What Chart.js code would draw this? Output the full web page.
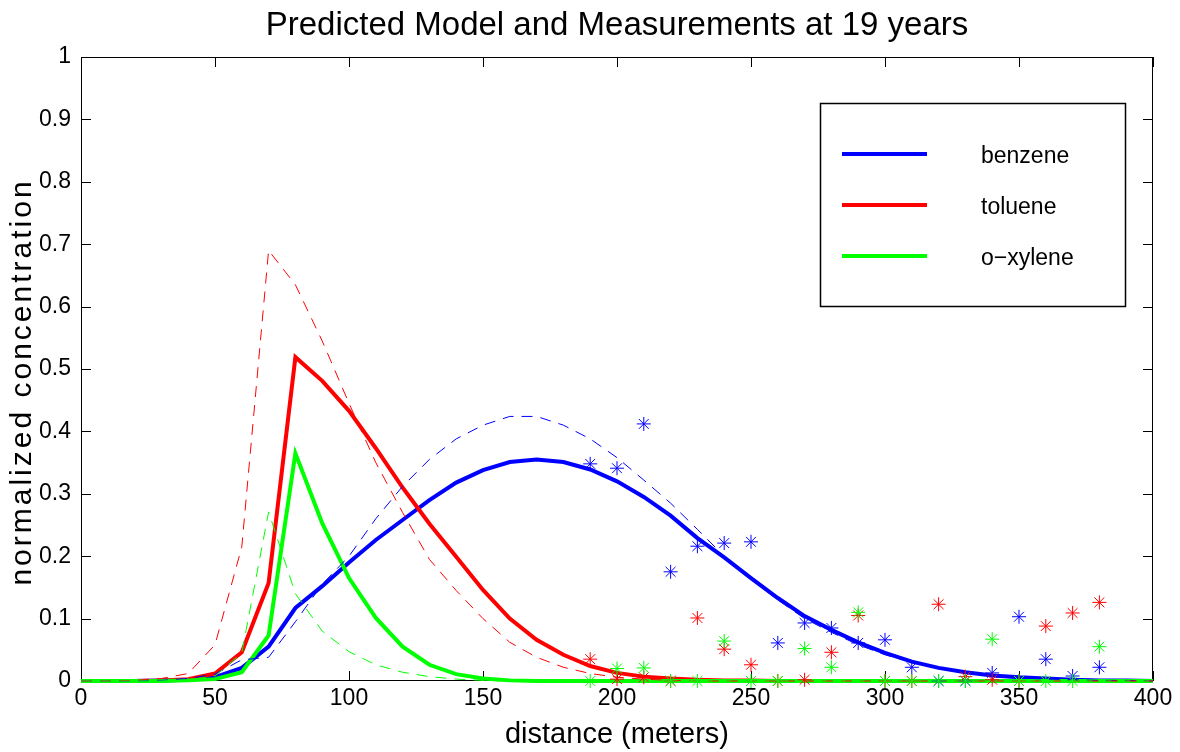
<!DOCTYPE html>
<html>
<head>
<meta charset="utf-8">
<title>Predicted Model and Measurements at 19 years</title>
<script src="https://cdn.jsdelivr.net/npm/chart.js@4.4.1/dist/chart.umd.min.js"></script>
<style>
  html, body { margin: 0; padding: 0; background: #ffffff; }
  #wrap { width: 1180px; height: 752px; }
</style>
</head>
<body>
<div id="wrap"><canvas id="chart" width="1180" height="752"></canvas></div>
<script>
// model grid (meters)
const distance = [0, 10, 20, 30, 40, 50, 60, 70, 80, 90, 100, 110, 120, 130, 140, 150, 160, 170, 180, 190, 200,
  210, 220, 230, 240, 250, 260, 270, 280, 290, 300, 310, 320, 330, 340, 350, 360, 370, 380, 390, 400];

// predicted model (solid lines)
const benzeneModel = [0, 0, 0, 0.001, 0.002, 0.006, 0.021, 0.055, 0.117, 0.152, 0.19, 0.226, 0.258, 0.29, 0.318, 0.338,
  0.351, 0.355, 0.351, 0.339, 0.32, 0.295, 0.265, 0.229, 0.198, 0.165, 0.133, 0.104, 0.082, 0.062, 0.045, 0.031,
  0.021, 0.014, 0.009, 0.006, 0.004, 0.002, 0.001, 0.001, 0];
const tolueneModel = [0, 0, 0, 0.001, 0.003, 0.012, 0.046, 0.157, 0.519, 0.481, 0.433, 0.373, 0.31, 0.252, 0.199, 0.146,
  0.1, 0.066, 0.042, 0.024, 0.013, 0.007, 0.004, 0.002, 0.001, 0.001, 0, 0, 0, 0, 0, 0,
  0, 0, 0, 0, 0, 0, 0, 0, 0];
const xyleneModel = [0, 0, 0, 0, 0.001, 0.003, 0.014, 0.073, 0.365, 0.253, 0.165, 0.101, 0.055, 0.026, 0.011, 0.004,
  0.001, 0, 0, 0, 0, 0, 0, 0, 0, 0, 0, 0, 0, 0, 0, 0,
  0, 0, 0, 0, 0, 0, 0, 0, 0];

// second model run (thin dashed lines)
const benzeneDashed = [0, 0, 0, 0.001, 0.004, 0.011, 0.034, 0.038, 0.095, 0.155, 0.2, 0.26, 0.312, 0.355, 0.388, 0.41,
  0.424, 0.424, 0.41, 0.388, 0.358, 0.322, 0.285, 0.243, 0.2, 0.163, 0.13, 0.1, 0.078, 0.058, 0.042, 0.03,
  0.02, 0.013, 0.008, 0.005, 0.003, 0.002, 0.001, 0.001, 0];
const tolueneDashed = [0, 0, 0.001, 0.004, 0.012, 0.058, 0.215, 0.69, 0.635, 0.545, 0.445, 0.35, 0.27, 0.195, 0.145, 0.1,
  0.062, 0.038, 0.022, 0.012, 0.006, 0.003, 0.001, 0, 0, 0, 0, 0, 0, 0, 0, 0,
  0, 0, 0, 0, 0, 0, 0, 0, 0];
const xyleneDashed = [0, 0, 0, 0, 0.002, 0.008, 0.045, 0.271, 0.14, 0.08, 0.047, 0.026, 0.014, 0.007, 0.003, 0.001,
  0, 0, 0, 0, 0, 0, 0, 0, 0, 0, 0, 0, 0, 0, 0, 0,
  0, 0, 0, 0, 0, 0, 0, 0, 0];

// measurements (asterisks)
const wellDistance = [190, 200, 210, 220, 230, 240, 250, 260, 270, 280, 290, 300, 310, 320, 330, 340, 350, 360, 370, 380];
const benzeneMeasured = [0.348, 0.341, 0.412, 0.175, 0.216, 0.221, 0.223, 0.061, 0.093, 0.085, 0.061, 0.066, 0.022,
  0, 0, 0.013, 0.103, 0.035, 0.008, 0.022];
const tolueneMeasured = [0.035, 0.003, 0.006, 0, 0.101, 0.051, 0.026, 0, 0.002, 0.046, 0.105, 0, 0,
  0.123, 0.007, 0.002, 0, 0.088, 0.109, 0.126];
const xyleneMeasured = [0, 0.02, 0.021, 0, 0, 0.064, 0, 0, 0.052, 0.022, 0.11, 0, 0,
  0, 0, 0.067, 0, 0, 0, 0.055];

const xTicks = [0, 50, 100, 150, 200, 250, 300, 350, 400];
const yTicks = [0, 0.1, 0.2, 0.3, 0.4, 0.5, 0.6, 0.7, 0.8, 0.9, 1];
const names = ['benzene', 'toluene', 'o\u2212xylene'];
const colors = ['#0000ff', '#ff0000', '#00ff00'];
const chartTitle = 'Predicted Model and Measurements at 19 years';
const yTitle = 'normalized concentration';

const FONT = '"Liberation Sans", Arial, Helvetica, sans-serif';

const pts = (xs, ys) => xs.map((x, i) => ({ x: x, y: ys[i] }));

function modelLine(values, color, order) {
  return {
    data: pts(distance, values), borderColor: color, borderWidth: 4,
    pointRadius: 0, tension: 0, clip: false, order: order
  };
}
function dashedLine(values, color, order) {
  return {
    data: pts(distance, values), borderColor: color, borderWidth: 1, borderDash: [11, 8],
    pointRadius: 0, tension: 0, clip: false, order: order
  };
}
function measured(values, color, order) {
  return {
    data: pts(wellDistance, values), showLine: false, pointStyle: 'star',
    pointRadius: 7, pointBorderWidth: 1, borderColor: color, backgroundColor: color,
    clip: false, order: order
  };
}

// box, inward tick marks, title and y label
const axesBox = {
  id: 'axesBox',
  beforeDatasetsDraw(chart) {
    const { ctx, chartArea: a, scales } = chart;
    ctx.save();
    ctx.strokeStyle = '#000';
    ctx.lineWidth = 1;
    ctx.strokeRect(Math.round(a.left) + 0.5, Math.round(a.top) + 0.5,
      Math.round(a.width) - 1, Math.round(a.height) - 1);
    ctx.beginPath();
    xTicks.forEach(v => {
      const px = Math.round(scales.x.getPixelForValue(v)) + 0.5;
      ctx.moveTo(px, a.bottom); ctx.lineTo(px, a.bottom - 10);
      ctx.moveTo(px, a.top); ctx.lineTo(px, a.top + 10);
    });
    yTicks.forEach(v => {
      const py = Math.round(scales.y.getPixelForValue(v)) + 0.5;
      ctx.moveTo(a.left, py); ctx.lineTo(a.left + 10, py);
      ctx.moveTo(a.right, py); ctx.lineTo(a.right - 10, py);
    });
    ctx.stroke();

    ctx.fillStyle = '#000';
    ctx.textAlign = 'center';
    ctx.textBaseline = 'middle';
    ctx.font = '33px ' + FONT;
    ctx.fillText(chartTitle, (a.left + a.right) / 2, 26);

    ctx.translate(23, 382);
    ctx.rotate(-Math.PI / 2);
    ctx.font = '30px ' + FONT;
    ctx.letterSpacing = '3px';
    ctx.fillText(yTitle, 0, 0);
    ctx.restore();
  }
};

// legend box in the upper right
const legendBox = {
  id: 'legendBox',
  afterDatasetsDraw(chart) {
    const { ctx } = chart;
    ctx.save();
    ctx.fillStyle = '#fff';
    ctx.fillRect(820, 103, 305, 203);
    ctx.strokeStyle = '#000';
    ctx.lineWidth = 1.5;
    ctx.strokeRect(820.5, 103.5, 305, 203);
    ctx.font = '23px ' + FONT;
    ctx.textBaseline = 'middle';
    names.forEach((name, i) => {
      const y = 154 + i * 51;
      ctx.strokeStyle = colors[i];
      ctx.lineWidth = 4;
      ctx.beginPath();
      ctx.moveTo(842, y); ctx.lineTo(927, y);
      ctx.stroke();
      ctx.fillStyle = '#000';
      ctx.fillText(name, 981, y + 3);
    });
    ctx.restore();
  }
};

new Chart(document.getElementById('chart'), {
  type: 'line',
  data: {
    datasets: [
      modelLine(benzeneModel, colors[0], 9),
      modelLine(tolueneModel, colors[1], 8),
      modelLine(xyleneModel, colors[2], 7),
      dashedLine(benzeneDashed, colors[0], 6),
      dashedLine(tolueneDashed, colors[1], 5),
      dashedLine(xyleneDashed, colors[2], 4),
      measured(benzeneMeasured, colors[0], 3),
      measured(tolueneMeasured, colors[1], 2),
      measured(xyleneMeasured, colors[2], 1)
    ]
  },
  options: {
    responsive: false,
    animation: false,
    events: [],
    layout: { padding: { left: 0, right: 27, top: 57, bottom: 0 } },
    plugins: {
      legend: { display: false },
      tooltip: { enabled: false },
      title: { display: false }
    },
    scales: {
      x: {
        type: 'linear', min: 0, max: 400,
        afterBuildTicks: s => { s.ticks = xTicks.map(v => ({ value: v })); },
        afterFit: s => { s.height = 71; },
        grid: { display: false, drawTicks: false },
        border: { display: false },
        ticks: { color: '#000', padding: 4, maxRotation: 0, font: { family: FONT, size: 23 } },
        title: {
          display: true, text: 'distance (meters)', color: '#000',
          font: { family: FONT, size: 29 }, padding: { top: 0, bottom: 0 }
        }
      },
      y: {
        type: 'linear', min: 0, max: 1,
        afterBuildTicks: s => { s.ticks = yTicks.map(v => ({ value: v })); },
        afterFit: s => { s.width = 81; },
        grid: { display: false, drawTicks: false },
        border: { display: false },
        ticks: { color: '#000', padding: 10, font: { family: FONT, size: 23 },
          callback: v => String(Math.round(v * 10) / 10) },
        title: { display: false }
      }
    }
  },
  plugins: [axesBox, legendBox]
});
</script>
</body>
</html>
